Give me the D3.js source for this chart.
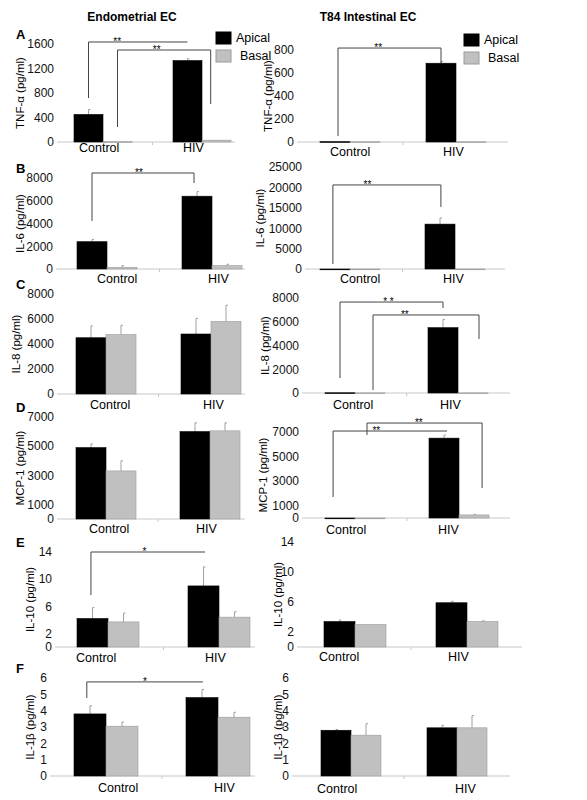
<!DOCTYPE html>
<html><head><meta charset="utf-8">
<script src="https://cdn.jsdelivr.net/npm/d3@7"></script>
<style>body{margin:0;background:#fff}text{font-family:"Liberation Sans",Arial,sans-serif}</style>
</head><body><div id="fig"></div>
<script>
var groups = ["Control", "HIV"];
var series = ["Apical", "Basal"];

// values per panel: [control, HIV]
var tnfEndoApical = [450, 1330], tnfEndoApicalErr = [530, 1360];
var tnfEndoBasal = [5, 30], tnfEndoBasalErr = [5, 30];
var tnfT84Apical = [3, 685], tnfT84ApicalErr = [3, 700];
var tnfT84Basal = [2, 2], tnfT84BasalErr = [2, 2];
var il6EndoApical = [2400, 6400], il6EndoApicalErr = [2600, 6800];
var il6EndoBasal = [150, 300], il6EndoBasalErr = [300, 420];
var il6T84Apical = [0, 11000], il6T84ApicalErr = [0, 12500];
var il6T84Basal = [0, 0], il6T84BasalErr = [0, 0];
var il8EndoApical = [4500, 4800], il8EndoApicalErr = [5450, 6050];
var il8EndoBasal = [4750, 5800], il8EndoBasalErr = [5500, 7100];
var il8T84Apical = [20, 5500], il8T84ApicalErr = [20, 6200];
var il8T84Basal = [10, 10], il8T84BasalErr = [10, 10];
var mcpEndoApical = [4900, 6000], mcpEndoApicalErr = [5150, 6600];
var mcpEndoBasal = [3300, 6050], mcpEndoBasalErr = [4000, 6600];
var mcpT84Apical = [0, 6500], mcpT84ApicalErr = [0, 6750];
var mcpT84Basal = [0, 250], mcpT84BasalErr = [0, 300];
var il10EndoApical = [4.2, 9.0], il10EndoApicalErr = [5.8, 11.8];
var il10EndoBasal = [3.7, 4.4], il10EndoBasalErr = [5.0, 5.2];
var il10T84Apical = [3.4, 5.9], il10T84ApicalErr = [3.6, 6.1];
var il10T84Basal = [3.0, 3.4], il10T84BasalErr = [3.0, 3.5];
var il1bEndoApical = [3.8, 4.8], il1bEndoApicalErr = [4.3, 5.3];
var il1bEndoBasal = [3.05, 3.6], il1bEndoBasalErr = [3.3, 3.9];
var il1bT84Apical = [2.8, 2.95], il1bT84ApicalErr = [2.85, 3.1];
var il1bT84Basal = [2.5, 2.95], il1bT84BasalErr = [3.2, 3.7];

var ticksTnfEndo = [0, 400, 800, 1200, 1600];
var ticksTnfT84 = [0, 200, 400, 600, 800];
var ticksIl6Endo = [0, 2000, 4000, 6000, 8000];
var ticksIl6T84 = [0, 5000, 10000, 15000, 20000, 25000];
var ticksIl8 = [0, 2000, 4000, 6000, 8000];
var ticksMcp = [0, 1000, 3000, 5000, 7000];
var ticksIl10 = [0, 2, 6, 10, 14];
var ticksIl1b = [0, 1, 2, 3, 4, 5, 6];

// brackets: [group1, offset1, group2, offset2, top, leftFoot, rightFoot, label, starFrac]
var panels = [
  {ylab: "TNF-\u03b1 (pg/ml)", dom: 1600, ticks: ticksTnfEndo, a: tnfEndoApical, ae: tnfEndoApicalErr, b: tnfEndoBasal, be: tnfEndoBasalErr,
   ax: 57, right: 235, y0: 142, y1: 44, c: [103, 202], bw: 29, ylx: 20, lx: [79, 183], ly: 152, letter: "A", legend: [216, 32],
   br: [[0, -0.5, 1, -0.5, 1633, 718, null, "**", 0.29], [0, 0.5, 1, 0.3, 1502, 245, 620, "**", 0.42]]},
  {ylab: "TNF-\u03b1 (pg/ml)", dom: 800, ticks: ticksTnfT84, a: tnfT84Apical, ae: tnfT84ApicalErr, b: tnfT84Basal, be: tnfT84BasalErr,
   ax: 297, right: 508, y0: 142, y1: 50, c: [350, 456], bw: 30, ylx: 268, lx: [330, 443], ly: 156, legend: [464, 34],
   br: [[0, -0.4, 1, -0.5, 817, 52, 687, "**", 0.39]]},
  {ylab: "IL-6 (pg/ml)", dom: 8000, ticks: ticksIl6Endo, a: il6EndoApical, ae: il6EndoApicalErr, b: il6EndoBasal, be: il6EndoBasalErr,
   ax: 56, right: 245, y0: 269, y1: 178, c: [107, 212], bw: 30, ylx: 20, lx: [97, 208], ly: 283, letter: "B",
   br: [[0, -0.5, 1, -0.6, 8440, 4220, 7560, "**", 0.46]]},
  {ylab: "IL-6  (pg/ml)", dom: 25000, ticks: ticksIl6T84, a: il6T84Apical, ae: il6T84ApicalErr, b: il6T84Basal, be: il6T84BasalErr,
   ax: 305, right: 505, y0: 269, y1: 167, c: [350, 455], bw: 30, ylx: 260, lx: [340, 443], ly: 283,
   br: [[0, -0.57, 1, -0.47, 20600, 1225, 15200, "**", 0.32]]},
  {ylab: "IL-8 (pg/ml)", dom: 8000, ticks: ticksIl8, a: il8EndoApical, ae: il8EndoApicalErr, b: il8EndoBasal, be: il8EndoBasalErr,
   ax: 57, right: 245, y0: 394, y1: 294, c: [106, 211], bw: 30, ylx: 16, lx: [90, 203], ly: 409, letter: "C",
   br: []},
  {ylab: "IL-8  (pg/ml)", dom: 8000, ticks: ticksIl8, a: il8T84Apical, ae: il8T84ApicalErr, b: il8T84Basal, be: il8T84BasalErr,
   ax: 302, right: 510, y0: 393, y1: 298, c: [355, 458], bw: 30, ylx: 265, lx: [333, 440], ly: 409,
   br: [[0, -0.5, 1, -0.5, 7660, 1260, 7160, "* *", 0.47], [0, 0.6, 1, 0.7, 6570, 250, 4550, "**", 0.3]]},
  {ylab: "MCP-1 (pg/ml)", dom: 7000, ticks: ticksMcp, a: mcpEndoApical, ae: mcpEndoApicalErr, b: mcpEndoBasal, be: mcpEndoBasalErr,
   ax: 57, right: 245, y0: 519, y1: 417, c: [106, 210], bw: 30, ylx: 20, lx: [89, 196], ly: 533, letter: "D",
   br: []},
  {ylab: "MCP-1 (pg/ml)", dom: 7000, ticks: ticksMcp, a: mcpT84Apical, ae: mcpT84ApicalErr, b: mcpT84Basal, be: mcpT84BasalErr,
   ax: 302, right: 510, y0: 518, y1: 432, c: [355, 459], bw: 30, ylx: 263, lx: [326, 438], ly: 534,
   br: [[0, -0.73, 1, -0.4, 7080, 1710, null, "**", 0.38], [0, 0.4, 1, 0.77, 7730, 6760, 2440, "**", 0.45]]},
  {ylab: "IL-10 (pg/ml)", dom: 14, ticks: ticksIl10, a: il10EndoApical, ae: il10EndoApicalErr, b: il10EndoBasal, be: il10EndoBasalErr,
   ax: 55, right: 255, y0: 647, y1: 552, c: [108, 219], bw: 31, ylx: 30, lx: [76, 205], ly: 662, letter: "E",
   br: [[0, -0.55, 1, -0.45, 14, 7.66, null, "*", 0.47]]},
  {ylab: "IL-10 (pg/ml)", dom: 14, ticks: ticksIl10, a: il10T84Apical, ae: il10T84ApicalErr, b: il10T84Basal, be: il10T84BasalErr,
   ax: 297, right: 522, y0: 647, y1: 542, c: [355, 467], bw: 31, ylx: 278, lx: [319, 448], ly: 661,
   br: []},
  {ylab: "IL-1\u03b2 (pg/ml)", dom: 6, ticks: ticksIl1b, a: il1bEndoApical, ae: il1bEndoApicalErr, b: il1bEndoBasal, be: il1bEndoBasalErr,
   ax: 50, right: 255, y0: 776, y1: 678, c: [106, 218], bw: 32, ylx: 30, lx: [98, 214], ly: 792, letter: "F",
   br: [[0, -0.6, 1, -0.47, 5.76, 4.78, null, "*", 0.5]]},
  {ylab: "IL-1\u03b2 (pg/ml)", dom: 6, ticks: ticksIl1b, a: il1bT84Apical, ae: il1bT84ApicalErr, b: il1bT84Basal, be: il1bT84BasalErr,
   ax: 292, right: 510, y0: 776, y1: 678, c: [351, 457], bw: 30, ylx: 278, lx: [317, 455], ly: 793,
   br: []}
];

var svg = d3.select("#fig").append("svg").attr("width", 587).attr("height", 800);

svg.append("text").attr("x", 132).attr("y", 21).attr("text-anchor", "middle")
  .attr("font-size", 12).attr("font-weight", "bold").text("Endometrial EC");
svg.append("text").attr("x", 368).attr("y", 21).attr("text-anchor", "middle")
  .attr("font-size", 12).attr("font-weight", "bold").text("T84 Intestinal EC");

panels.forEach(function (p) {
  var y = d3.scaleLinear().domain([0, p.dom]).range([p.y0, p.y1]);
  var x = d3.scaleOrdinal().domain(groups).range(p.c);
  var g = svg.append("g");

  // baseline
  g.append("line").attr("x1", p.ax).attr("x2", p.right).attr("y1", p.y0).attr("y2", p.y0)
    .attr("stroke", "#c8c8c8");
  g.append("line").attr("x1", (p.c[0] + p.c[1]) / 2).attr("x2", (p.c[0] + p.c[1]) / 2)
    .attr("y1", p.y0).attr("y2", p.y0 + 3).attr("stroke", "#c8c8c8");

  // y axis, labels only
  var yAxis = g.append("g").attr("transform", "translate(" + p.ax + ",0)")
    .call(d3.axisLeft(y).tickValues(p.ticks).tickSize(0).tickPadding(3).tickFormat(d3.format("d")));
  yAxis.select(".domain").remove();
  yAxis.selectAll("text").attr("font-size", 12).attr("fill", "#111")
    .attr("font-family", "Liberation Sans, Arial, sans-serif");

  g.append("text").attr("transform", "translate(" + p.ylx + "," + (p.y0 + p.y1) / 2 + ") rotate(-90)")
    .attr("text-anchor", "middle").attr("dy", "0.35em").attr("font-size", 11.5).text(p.ylab);

  groups.forEach(function (grp, i) {
    g.append("text").attr("x", p.lx[i]).attr("y", p.ly).attr("font-size", 12.5).text(grp);
  });

  var bars = [];
  groups.forEach(function (grp, i) {
    bars.push({g: grp, s: 0, v: p.a[i], e: p.ae[i]});
    bars.push({g: grp, s: 1, v: p.b[i], e: p.be[i]});
  });
  bars.forEach(function (d) {
    var x0 = x(d.g) + (d.s === 0 ? -p.bw : 0);
    if (d.e > d.v) {
      g.append("line").attr("x1", x0 + p.bw / 2).attr("x2", x0 + p.bw / 2)
        .attr("y1", y(d.v)).attr("y2", y(d.e)).attr("stroke", "#888").attr("stroke-width", 0.8);
      g.append("line").attr("x1", x0 + p.bw / 2).attr("x2", x0 + p.bw / 2 + 2)
        .attr("y1", y(d.e)).attr("y2", y(d.e)).attr("stroke", "#888").attr("stroke-width", 0.8);
    }
    g.append("rect").attr("x", x0).attr("width", p.bw)
      .attr("y", y(d.v)).attr("height", Math.max(0.8, p.y0 - y(d.v)))
      .attr("fill", d.s === 0 ? "#000" : "#c0c0c0")
      .attr("stroke", d.s === 0 ? "#000" : "#9a9a9a").attr("stroke-width", 0.6);
  });

  p.br.forEach(function (b) {
    var xa = x(groups[b[0]]) + b[1] * p.bw, xb = x(groups[b[2]]) + b[3] * p.bw;
    var path = "M" + xa + "," + y(b[5]) + "V" + y(b[4]) + "H" + xb;
    if (b[6] !== null) path += "V" + y(b[6]);
    g.append("path").attr("d", path).attr("fill", "none").attr("stroke", "#444").attr("stroke-width", 1);
    g.append("text").attr("x", xa + (xb - xa) * b[8]).attr("y", y(b[4]) + 3)
      .attr("text-anchor", "middle").attr("font-size", 10).text(b[7]);
  });

  if (p.letter) {
    svg.append("text").attr("x", 16).attr("y", p.y1 - 5).attr("font-size", 13)
      .attr("font-weight", "bold").text(p.letter);
  }

  if (p.legend) {
    series.forEach(function (s, i) {
      g.append("rect").attr("x", p.legend[0]).attr("y", p.legend[1] + i * 18)
        .attr("width", 15).attr("height", 12)
        .attr("fill", i === 0 ? "#000" : "#c0c0c0").attr("stroke", i === 0 ? "#000" : "#9a9a9a");
      g.append("text").attr("x", p.legend[0] + 20 + i * 4).attr("y", p.legend[1] + 10 + i * 18)
        .attr("font-size", 12.5).text(s);
    });
  }
});
</script>
</body></html>
